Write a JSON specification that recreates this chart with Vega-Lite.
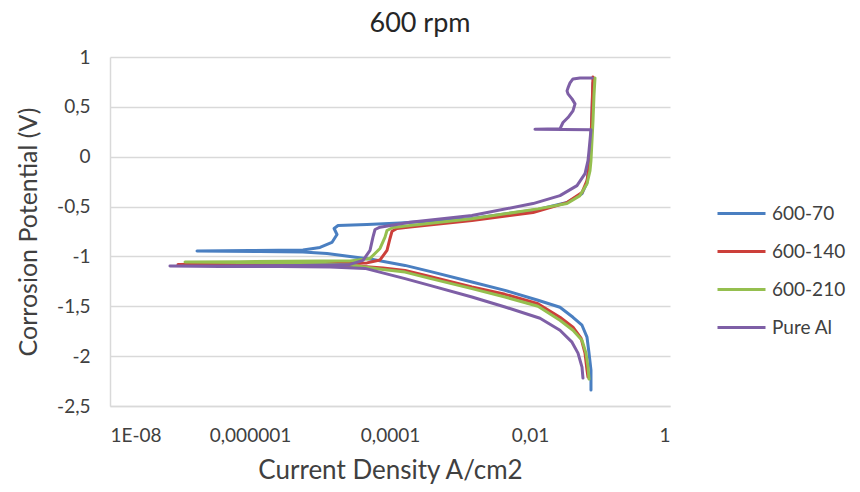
{
  "$schema": "https://vega.github.io/schema/vega-lite/v6.json",
  "width": 560,
  "height": 349,
  "autosize": {"type": "none"},
  "padding": {"left": 110, "top": 57, "right": 190, "bottom": 86},
  "background": "white",
  "config": {"view": {"stroke": null}, "font": "Lato"},
  "title": {"text": "600 rpm", "fontSize": 27, "font": "Lato", "fontWeight": "normal", "color": "#262626", "offset": 10, "dx": 30, "anchor": "middle"},
  "data": {"values": [
    {"s":"600-70","o":1,"i":0.0743,"v":-2.34},
    {"s":"600-70","o":2,"i":0.0743,"v":-2.14},
    {"s":"600-70","o":3,"i":0.0697,"v":-1.97},
    {"s":"600-70","o":4,"i":0.0652,"v":-1.81},
    {"s":"600-70","o":5,"i":0.0553,"v":-1.69},
    {"s":"600-70","o":6,"i":0.0411,"v":-1.61},
    {"s":"600-70","o":7,"i":0.0268,"v":-1.51},
    {"s":"600-70","o":8,"i":0.013,"v":-1.44},
    {"s":"600-70","o":9,"i":0.0044,"v":-1.34},
    {"s":"600-70","o":10,"i":0.00148,"v":-1.257},
    {"s":"600-70","o":11,"i":0.00037,"v":-1.15},
    {"s":"600-70","o":12,"i":0.000164,"v":-1.09},
    {"s":"600-70","o":13,"i":0.0000571,"v":-1.03},
    {"s":"600-70","o":14,"i":0.0000268,"v":-1.0},
    {"s":"600-70","o":15,"i":0.0000126,"v":-0.97},
    {"s":"600-70","o":16,"i":0.00000571,"v":-0.955},
    {"s":"600-70","o":17,"i":0.00000139,"v":-0.95},
    {"s":"600-70","o":18,"i":0.000000175,"v":-0.945},
    {"s":"600-70","o":19,"i":0.000001,"v":-0.94},
    {"s":"600-70","o":20,"i":0.00000571,"v":-0.935},
    {"s":"600-70","o":21,"i":0.00001,"v":-0.91},
    {"s":"600-70","o":22,"i":0.0000148,"v":-0.86},
    {"s":"600-70","o":23,"i":0.0000175,"v":-0.78},
    {"s":"600-70","o":24,"i":0.0000159,"v":-0.72},
    {"s":"600-70","o":25,"i":0.0000181,"v":-0.69},
    {"s":"600-70","o":26,"i":0.0000469,"v":-0.68},
    {"s":"600-70","o":27,"i":0.000139,"v":-0.665},
    {"s":"600-70","o":28,"i":0.00148,"v":-0.62},
    {"s":"600-70","o":29,"i":0.013,"v":-0.53},
    {"s":"600-70","o":30,"i":0.0338,"v":-0.46},
    {"s":"600-70","o":31,"i":0.0553,"v":-0.37},
    {"s":"600-70","o":32,"i":0.0652,"v":-0.26},
    {"s":"600-70","o":33,"i":0.0697,"v":-0.09},
    {"s":"600-70","o":34,"i":0.0743,"v":0.16},
    {"s":"600-70","o":35,"i":0.0769,"v":0.46},
    {"s":"600-70","o":36,"i":0.0794,"v":0.74},

    {"s":"600-140","o":1,"i":0.0674,"v":-2.21},
    {"s":"600-140","o":2,"i":0.0652,"v":-2.14},
    {"s":"600-140","o":3,"i":0.0611,"v":-1.97},
    {"s":"600-140","o":4,"i":0.0536,"v":-1.82},
    {"s":"600-140","o":5,"i":0.0411,"v":-1.71},
    {"s":"600-140","o":6,"i":0.0268,"v":-1.61},
    {"s":"600-140","o":7,"i":0.013,"v":-1.475},
    {"s":"600-140","o":8,"i":0.0044,"v":-1.38},
    {"s":"600-140","o":9,"i":0.00148,"v":-1.307},
    {"s":"600-140","o":10,"i":0.00037,"v":-1.2},
    {"s":"600-140","o":11,"i":0.000164,"v":-1.14},
    {"s":"600-140","o":12,"i":0.0000794,"v":-1.115},
    {"s":"600-140","o":13,"i":0.0000268,"v":-1.09},
    {"s":"600-140","o":14,"i":0.00000518,"v":-1.085},
    {"s":"600-140","o":15,"i":0.00000072,"v":-1.08},
    {"s":"600-140","o":16,"i":0.0000000936,"v":-1.08},
    {"s":"600-140","o":17,"i":0.00000072,"v":-1.075},
    {"s":"600-140","o":18,"i":0.00001,"v":-1.07},
    {"s":"600-140","o":19,"i":0.0000469,"v":-1.065},
    {"s":"600-140","o":20,"i":0.000072,"v":-1.035},
    {"s":"600-140","o":21,"i":0.0000906,"v":-0.94},
    {"s":"600-140","o":22,"i":0.0001,"v":-0.82},
    {"s":"600-140","o":23,"i":0.000107,"v":-0.747},
    {"s":"600-140","o":24,"i":0.000126,"v":-0.72},
    {"s":"600-140","o":25,"i":0.000193,"v":-0.705},
    {"s":"600-140","o":26,"i":0.00148,"v":-0.64},
    {"s":"600-140","o":27,"i":0.01104,"v":-0.56},
    {"s":"600-140","o":28,"i":0.0338,"v":-0.46},
    {"s":"600-140","o":29,"i":0.0553,"v":-0.36},
    {"s":"600-140","o":30,"i":0.0652,"v":-0.24},
    {"s":"600-140","o":31,"i":0.0697,"v":-0.11},
    {"s":"600-140","o":32,"i":0.0743,"v":0.16},
    {"s":"600-140","o":33,"i":0.0769,"v":0.46},
    {"s":"600-140","o":34,"i":0.0794,"v":0.8},

    {"s":"600-210","o":1,"i":0.0697,"v":-2.23},
    {"s":"600-210","o":2,"i":0.0674,"v":-2.11},
    {"s":"600-210","o":3,"i":0.0631,"v":-1.97},
    {"s":"600-210","o":4,"i":0.0553,"v":-1.84},
    {"s":"600-210","o":5,"i":0.0411,"v":-1.74},
    {"s":"600-210","o":6,"i":0.0268,"v":-1.64},
    {"s":"600-210","o":7,"i":0.013,"v":-1.5},
    {"s":"600-210","o":8,"i":0.0044,"v":-1.407},
    {"s":"600-210","o":9,"i":0.00148,"v":-1.323},
    {"s":"600-210","o":10,"i":0.00037,"v":-1.22},
    {"s":"600-210","o":11,"i":0.000164,"v":-1.157},
    {"s":"600-210","o":12,"i":0.0000794,"v":-1.13},
    {"s":"600-210","o":13,"i":0.0000268,"v":-1.085},
    {"s":"600-210","o":14,"i":0.00000518,"v":-1.065},
    {"s":"600-210","o":15,"i":0.00000072,"v":-1.06},
    {"s":"600-210","o":16,"i":0.000000118,"v":-1.057},
    {"s":"600-210","o":17,"i":0.00000072,"v":-1.053},
    {"s":"600-210","o":18,"i":0.00001,"v":-1.045},
    {"s":"600-210","o":19,"i":0.0000268,"v":-1.045},
    {"s":"600-210","o":20,"i":0.0000518,"v":-1.02},
    {"s":"600-210","o":21,"i":0.000072,"v":-0.92},
    {"s":"600-210","o":22,"i":0.0000849,"v":-0.807},
    {"s":"600-210","o":23,"i":0.0000906,"v":-0.74},
    {"s":"600-210","o":24,"i":0.00011,"v":-0.71},
    {"s":"600-210","o":25,"i":0.000193,"v":-0.69},
    {"s":"600-210","o":26,"i":0.00148,"v":-0.623},
    {"s":"600-210","o":27,"i":0.013,"v":-0.523},
    {"s":"600-210","o":28,"i":0.0338,"v":-0.47},
    {"s":"600-210","o":29,"i":0.0518,"v":-0.39},
    {"s":"600-210","o":30,"i":0.0652,"v":-0.27},
    {"s":"600-210","o":31,"i":0.072,"v":-0.14},
    {"s":"600-210","o":32,"i":0.0743,"v":-0.04},
    {"s":"600-210","o":33,"i":0.0794,"v":0.36},
    {"s":"600-210","o":34,"i":0.082,"v":0.61},
    {"s":"600-210","o":35,"i":0.0848,"v":0.79},

    {"s":"Pure Al","o":1,"i":0.0571,"v":-2.22},
    {"s":"Pure Al","o":2,"i":0.0553,"v":-2.11},
    {"s":"Pure Al","o":3,"i":0.0485,"v":-1.97},
    {"s":"Pure Al","o":4,"i":0.0398,"v":-1.86},
    {"s":"Pure Al","o":5,"i":0.0268,"v":-1.74},
    {"s":"Pure Al","o":6,"i":0.0139,"v":-1.62},
    {"s":"Pure Al","o":7,"i":0.0044,"v":-1.507},
    {"s":"Pure Al","o":8,"i":0.00148,"v":-1.407},
    {"s":"Pure Al","o":9,"i":0.00037,"v":-1.29},
    {"s":"Pure Al","o":10,"i":0.000164,"v":-1.223},
    {"s":"Pure Al","o":11,"i":0.000044,"v":-1.12},
    {"s":"Pure Al","o":12,"i":0.0000139,"v":-1.105},
    {"s":"Pure Al","o":13,"i":0.00000268,"v":-1.1},
    {"s":"Pure Al","o":14,"i":0.000000373,"v":-1.1},
    {"s":"Pure Al","o":15,"i":0.0000000719,"v":-1.095},
    {"s":"Pure Al","o":16,"i":0.000000373,"v":-1.095},
    {"s":"Pure Al","o":17,"i":0.00000518,"v":-1.09},
    {"s":"Pure Al","o":18,"i":0.0000139,"v":-1.085},
    {"s":"Pure Al","o":19,"i":0.0000268,"v":-1.08},
    {"s":"Pure Al","o":20,"i":0.0000411,"v":-1.04},
    {"s":"Pure Al","o":21,"i":0.0000518,"v":-0.94},
    {"s":"Pure Al","o":22,"i":0.0000571,"v":-0.807},
    {"s":"Pure Al","o":23,"i":0.0000611,"v":-0.73},
    {"s":"Pure Al","o":24,"i":0.000072,"v":-0.707},
    {"s":"Pure Al","o":25,"i":0.000193,"v":-0.657},
    {"s":"Pure Al","o":26,"i":0.00148,"v":-0.59},
    {"s":"Pure Al","o":27,"i":0.01104,"v":-0.47},
    {"s":"Pure Al","o":28,"i":0.0268,"v":-0.39},
    {"s":"Pure Al","o":29,"i":0.0469,"v":-0.29},
    {"s":"Pure Al","o":30,"i":0.0611,"v":-0.17},
    {"s":"Pure Al","o":31,"i":0.0674,"v":-0.04},
    {"s":"Pure Al","o":32,"i":0.0697,"v":0.06},
    {"s":"Pure Al","o":33,"i":0.0743,"v":0.27},
    {"s":"Pure Al","o":34,"i":0.01178,"v":0.275},
    {"s":"Pure Al","o":35,"i":0.0268,"v":0.28},
    {"s":"Pure Al","o":36,"i":0.0296,"v":0.343},
    {"s":"Pure Al","o":37,"i":0.0349,"v":0.393},
    {"s":"Pure Al","o":38,"i":0.0411,"v":0.46},
    {"s":"Pure Al","o":39,"i":0.044,"v":0.53},
    {"s":"Pure Al","o":40,"i":0.0398,"v":0.58},
    {"s":"Pure Al","o":41,"i":0.0349,"v":0.63},
    {"s":"Pure Al","o":42,"i":0.0338,"v":0.66},
    {"s":"Pure Al","o":43,"i":0.0349,"v":0.69},
    {"s":"Pure Al","o":44,"i":0.0373,"v":0.74},
    {"s":"Pure Al","o":45,"i":0.0411,"v":0.78},
    {"s":"Pure Al","o":46,"i":0.0518,"v":0.79},
    {"s":"Pure Al","o":47,"i":0.0769,"v":0.79}
  ]},
  "encoding": {
    "x": {
      "field": "i", "type": "quantitative",
      "scale": {"type": "log", "domain": [1e-8, 1], "nice": false},
      "axis": {
        "values": [1e-8, 1e-6, 0.0001, 0.01, 1],
        "labelExpr": "datum.value < 1e-7 ? '1E-08' : replace(toString(datum.value), '.', ',')",
        "grid": false, "ticks": false, "tickSize": 0,
        "domainColor": "#d9d9d9", "domainWidth": 1.5,
        "labelFont": "Lato", "labelFontSize": 19, "labelColor": "#404040", "labelPadding": 20,
        "title": "Current Density A/cm2", "titleFont": "Lato", "titleFontSize": 26, "titleFontWeight": "normal", "titleColor": "#404040",
        "titleX": 280, "titleY": 64, "titleBaseline": "middle", "titleAlign": "center"
      }
    },
    "y": {
      "field": "v", "type": "quantitative",
      "scale": {"domain": [-2.5, 1], "nice": false, "zero": false},
      "axis": {
        "values": [-2.5, -2, -1.5, -1, -0.5, 0, 0.5, 1],
        "labelExpr": "replace(toString(datum.value), '.', ',')",
        "grid": true, "gridColor": "#d9d9d9", "gridWidth": 1.5,
        "ticks": false, "tickSize": 0,
        "domainColor": "#d9d9d9", "domainWidth": 1.5,
        "labelFont": "Lato", "labelFontSize": 19, "labelColor": "#404040", "labelPadding": 20,
        "title": "Corrosion Potential (V)", "titleFont": "Lato", "titleFontSize": 25, "titleFontWeight": "normal", "titleColor": "#404040",
        "titleX": -82, "titleY": 174.5, "titleAngle": -90, "titleBaseline": "middle", "titleAlign": "center"
      }
    },
    "color": {
      "field": "s", "type": "nominal",
      "scale": {"domain": ["600-70", "600-140", "600-210", "Pure Al"], "range": ["#4a7fc1", "#cc3f3a", "#95bf4f", "#7e5fa6"]},
      "legend": {
        "title": null, "orient": "none", "legendX": 606, "legendY": 131,
        "symbolType": "stroke", "symbolSize": 2304, "symbolStrokeWidth": 3,
        "rowPadding": 2, "labelFont": "Lato", "labelFontSize": 19, "labelColor": "#404040", "labelOffset": 5, "padding": 0
      }
    },
    "order": {"field": "o", "type": "quantitative"}
  },
  "layer": [
    {"transform": [{"filter": "datum.s === '600-70'"}], "mark": {"type": "line", "strokeWidth": 3, "strokeJoin": "round", "strokeCap": "round"}},
    {"transform": [{"filter": "datum.s === '600-140'"}], "mark": {"type": "line", "strokeWidth": 3, "strokeJoin": "round", "strokeCap": "round"}},
    {"transform": [{"filter": "datum.s === '600-210'"}], "mark": {"type": "line", "strokeWidth": 3, "strokeJoin": "round", "strokeCap": "round"}},
    {"transform": [{"filter": "datum.s === 'Pure Al'"}], "mark": {"type": "line", "strokeWidth": 3, "strokeJoin": "round", "strokeCap": "round"}}
  ]
}
